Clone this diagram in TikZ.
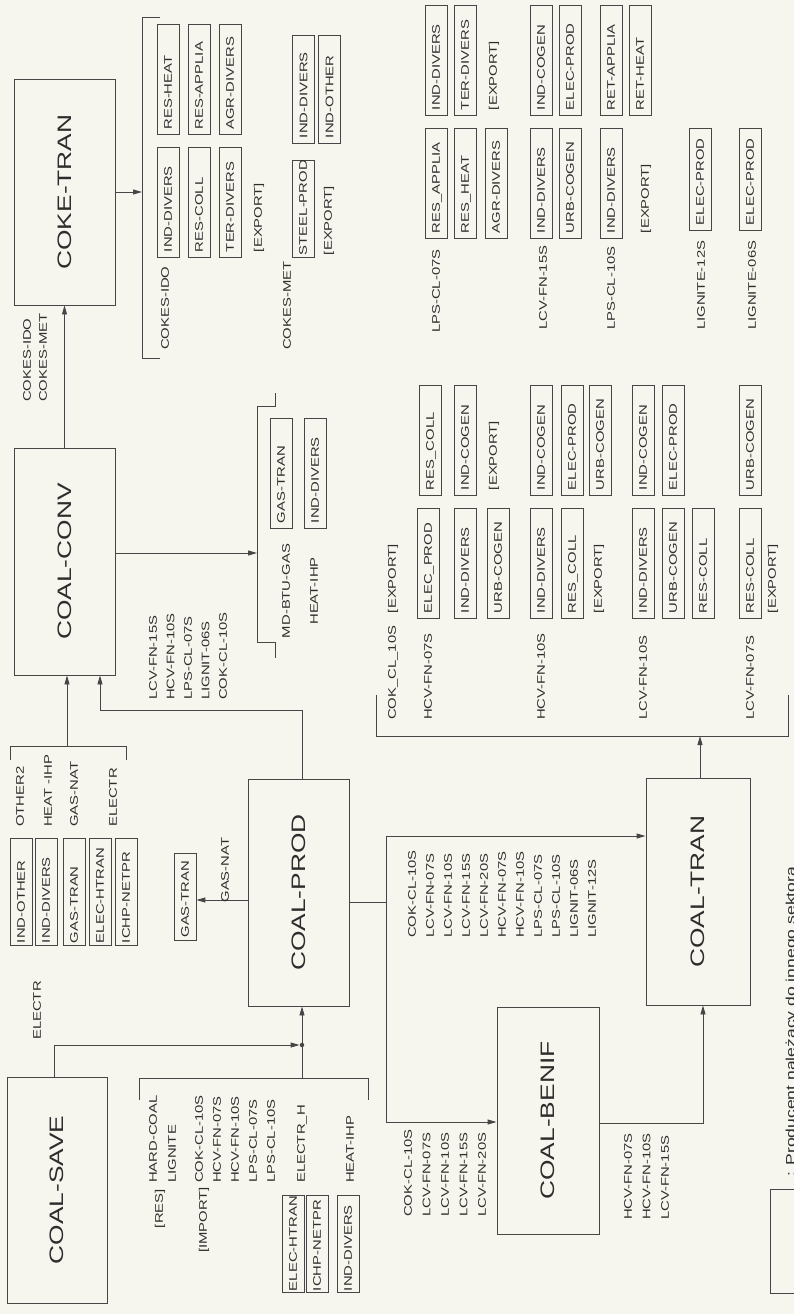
\documentclass[tikz,border=0pt]{standalone}
\usepackage{fontspec}
\setmainfont{Liberation Sans}[FakeStretch=1.35]
\usetikzlibrary{arrows.meta,calc}
\definecolor{bgc}{RGB}{247,246,238}
\definecolor{lnc}{RGB}{70,70,70}
\definecolor{txc}{RGB}{45,45,45}
\newcommand\lblf{\fontsize{11}{12}\selectfont\hyphenpenalty=10000\exhyphenpenalty=10000\relax}
\begin{document}
\begin{tikzpicture}[x=1pt,y=-1pt,
 ln/.style={draw=lnc, line width=0.9pt},
 arr/.style={ln, -{Triangle[length=9pt,width=5pt]}},
 big/.style={draw=lnc, line width=0.9pt, rotate=90, inner sep=0pt, text=txc, font=\fontsize{19.5}{22}\selectfont},
 lbl/.style={rotate=90, inner sep=0pt, text=txc, font=\lblf, text height=7.8pt, text depth=0pt},
 bx/.style={draw=lnc, line width=0.8pt, rotate=90, text=txc, font=\lblf, text width=#1, align=left, inner xsep=5pt, inner ysep=0pt, minimum height=22pt, text height=7.8pt, text depth=0pt},
 bx/.default=100pt,
 bxt/.style={bx=#1, draw=none},
 bxt/.default=100pt]
\useasboundingbox (0,0) rectangle (794,1314);
\clip (0,0) rectangle (794,1314);
\fill[bgc] (0,0) rectangle (794,1314);

% main boxes
\node[big, minimum width=226pt, minimum height=101pt] (coketran) at (64.5,192) {COKE-TRAN};
\node[big, minimum width=227pt, minimum height=101pt] (coalconv) at (64.5,561.5) {COAL-CONV};
\node[big, minimum width=227pt, minimum height=101pt] (coalprod) at (298.5,892.5) {COAL-PROD};
\node[big, minimum width=227pt, minimum height=104pt] (coaltran) at (698,891.5) {COAL-TRAN};
\node[big, minimum width=227pt, minimum height=102pt] (coalbenif) at (548,1120.5) {COAL-BENIF};
\node[big, minimum width=226pt, minimum height=100pt] (coalsave) at (57,1190) {COAL-SAVE};

% COKE-TRAN outputs
\coordinate (b1t) at (142,17); \coordinate (b1b) at (142,358);
\draw[ln] ($(b1t)+(18,0)$) -- (b1t) -- (b1b) -- ($(b1b)+(18,0)$);
\draw[arr] (coketran.south) -- (coketran.south -| b1t);
\node[lbl, anchor=west] (cido) at (165,350) {COKES-IDO};
\node[bx] (kb1) at (168,202) {IND-DIVERS};
\node[bx] (kb2) at (199,202) {RES-COLL};
\node[bx] (kb3) at (230,202) {TER-DIVERS};
\node[bxt] (kb4) at (258,202) {[EXPORT]};
\node[bx] (kb5) at (168,79.5) {RES-HEAT};
\node[bx] (kb6) at (199,79.5) {RES-APPLIA};
\node[bx] (kb7) at (230,79.5) {AGR-DIVERS};
\node[lbl, anchor=west] (cmet) at (287,350) {COKES-MET};
\node[bx=87pt, inner xsep=2pt, text width=93pt] (kb8) at (303,208.5) {STEEL-PROD};
\node[bxt=87pt, inner xsep=2pt, text width=93pt] (kb9) at (328,208.5) {[EXPORT]};
\node[bx=98pt] (kb10) at (303.5,89) {IND-DIVERS};
\node[bx=98pt] (kb11) at (329.5,89) {IND-OTHER};

% right region
\node[lbl, anchor=west] (r1) at (436,333) {LPS-CL-07S};
\node[bx] (r1a) at (436,183) {RES\_APPLIA};
\node[bx] (r1b) at (465,183) {RES\_HEAT};
\node[bx] (r1c) at (496,183) {AGR-DIVERS};
\node[bx] (r1d) at (436,60) {IND-DIVERS};
\node[bx] (r1e) at (465,60) {TER-DIVERS};
\node[bxt] (r1f) at (493,60) {[EXPORT]};
\node[lbl, anchor=west] (r2) at (543,330) {LCV-FN-15S};
\node[bx] (r2a) at (541,183) {IND-DIVERS};
\node[bx] (r2b) at (570,183) {URB-COGEN};
\node[bx] (r2c) at (541,60) {IND-COGEN};
\node[bx] (r2d) at (570,60) {ELEC-PROD};
\node[lbl, anchor=west] (r3) at (611,330) {LPS-CL-10S};
\node[bx] (r3a) at (611,183) {IND-DIVERS};
\node[bxt] (r3b) at (645,183) {[EXPORT]};
\node[bx] (r3c) at (611,60) {RET-APPLIA};
\node[bx] (r3d) at (640,60) {RET-HEAT};
\node[lbl, anchor=west] (r4) at (701,330) {LIGNITE-12S};
\node[bx=92pt] (r4a) at (700,179) {ELEC-PROD};
\node[lbl, anchor=west] (r5) at (752,330) {LIGNITE-06S};
\node[bx=92pt] (r5a) at (750,179) {ELEC-PROD};

% COAL-CONV outputs
\coordinate (b2) at (257,553);
\draw[ln] (275,393) -- (275,406) -- (257,406) -- (257,642) -- (275,642) -- (275,658);
\draw[arr] (coalconv.south |- b2) -- (b2);
\node[bx] (m1) at (281,473) {GAS-TRAN};
\node[bx] (m2) at (315,473) {IND-DIVERS};
\node[lbl] (m3) at (286,591) {MD-BTU-GAS};
\node[lbl] (m4) at (314,591) {HEAT-IHP};

% COAL-CONV -> COKE-TRAN
\draw[arr] (coalconv.east) -- (coketran.west);
\node[lbl, anchor=west] (ck1) at (27,402) {COKES-IDO};
\node[lbl, anchor=west] (ck2) at (43,402) {COKES-MET};

% COAL-CONV inputs (other sectors)
\draw[ln] (10,760) -- (10,746) -- (126,746) -- (126,760);
\coordinate (b3) at (67,746);
\draw[arr] (b3) -- (coalconv.west -| b3);
\node[lbl, anchor=west] (ci1) at (20,827) {OTHER2};
\node[lbl, anchor=west] (ci2) at (48,827) {HEAT -IHP};
\node[lbl, anchor=west] (ci3) at (74,827) {GAS-NAT};
\node[lbl, anchor=west] (ci4) at (113,827) {ELECTR};
\node[bx=97pt, inner xsep=2pt, text width=103pt] (cb1) at (21,891.5) {IND-OTHER};
\node[bx=97pt, inner xsep=2pt, text width=103pt] (cb2) at (46,891.5) {IND-DIVERS};
\node[bx=97pt, inner xsep=2pt, text width=103pt] (cb3) at (74,891.5) {GAS-TRAN};
\node[bx=97pt, inner xsep=2pt, text width=103pt] (cb4) at (100,891.5) {ELEC-HTRAN};
\node[bx=97pt, inner xsep=2pt, text width=103pt] (cb5) at (126,891.5) {ICHP-NETPR};

% COAL-PROD -> COAL-CONV
\coordinate (j1) at (302,710); \coordinate (j2) at (100,710);
\draw[arr] (coalprod.east -| j1) -- (j1) -- (j2) -- (coalconv.west -| j2);
\foreach \t [count=\i] in {LCV-FN-15S,HCV-FN-10S,LPS-CL-07S,LIGNIT-06S,COK-CL-10S}
  \node[lbl, anchor=west] (cv\i) at ({153+17.5*(\i-1)},700) {\t};

% COAL-PROD -> GAS-TRAN
\node[bx=77pt, inner xsep=3pt, text width=81pt] (gt2) at (185,897) {GAS-TRAN};
\coordinate (g1) at (0,900);
\draw[arr] (coalprod.north |- g1) -- (gt2.south |- g1);
\node[lbl] (gn) at (225,870) {GAS-NAT};

% COAL-PROD outputs
\coordinate (pr) at (386,902); \coordinate (v1) at (386,836); \coordinate (v2) at (386,1122);
\draw[ln] (coalprod.south |- pr) -- (pr);
\draw[ln] (v1) -- (v2);
\draw[arr] (v1) -- (coaltran.north |- v1);
\draw[arr] (v2) -- (coalbenif.north |- v2);
\foreach \t [count=\i] in {COK-CL-10S,LCV-FN-07S,LCV-FN-10S,LCV-FN-15S,LCV-FN-20S,HCV-FN-07S,HCV-FN-10S,LPS-CL-07S,LPS-CL-10S,LIGNIT-06S,LIGNIT-12S}
  \node[lbl, anchor=west] (po\i) at ({412+18*(\i-1)},938) {\t};
\foreach \t [count=\i] in {COK-CL-10S,LCV-FN-07S,LCV-FN-10S,LCV-FN-15S,LCV-FN-20S}
  \node[lbl, anchor=west] (bi\i) at ({408+18.5*(\i-1)},1217) {\t};

% COAL-BENIF -> COAL-TRAN
\coordinate (v3) at (703,1123);
\draw[arr] (coalbenif.south |- v3) -- (v3) -- (coaltran.west -| v3);
\foreach \t [count=\i] in {HCV-FN-07S,HCV-FN-10S,LCV-FN-15S}
  \node[lbl, anchor=west] (bo\i) at ({628+18.5*(\i-1)},1220) {\t};

% COAL-TRAN outputs
\coordinate (t1) at (700,736);
\draw[arr] (coaltran.east -| t1) -- (t1);
\draw[ln] (376,695) -- (376,736) -- (788,736) -- (788,695);
\node[lbl, anchor=west] (to1) at (392,720) {COK\_CL\_10S};
\node[bxt] (to1a) at (392,563) {[EXPORT]};
\node[lbl, anchor=west] (to2) at (428,720) {HCV-FN-07S};
\node[bx] (to2a) at (428,563) {ELEC\_PROD};
\node[bx] (to2b) at (465,563) {IND-DIVERS};
\node[bx] (to2c) at (498,563) {URB-COGEN};
\node[bx] (to2d) at (430,440) {RES\_COLL};
\node[bx] (to2e) at (465,440) {IND-COGEN};
\node[bxt] (to2f) at (493,440) {[EXPORT]};
\node[lbl, anchor=west] (to3) at (541,720) {HCV-FN-10S};
\node[bx] (to3a) at (541,563) {IND-DIVERS};
\node[bx] (to3b) at (572,563) {RES\_COLL};
\node[bxt] (to3c) at (598,563) {[EXPORT]};
\node[bx] (to3d) at (541,440) {IND-COGEN};
\node[bx] (to3e) at (572,440) {ELEC-PROD};
\node[bx] (to3f) at (600,440) {URB-COGEN};
\node[lbl, anchor=west] (to4) at (643,720) {LCV-FN-10S};
\node[bx] (to4a) at (643,563) {IND-DIVERS};
\node[bx] (to4b) at (673,563) {URB-COGEN};
\node[bx] (to4c) at (703,563) {RES-COLL};
\node[bx] (to4d) at (643,440) {IND-COGEN};
\node[bx] (to4e) at (673,440) {ELEC-PROD};
\node[lbl, anchor=west] (to5) at (750,720) {LCV-FN-07S};
\node[bx] (to5a) at (750,563) {RES-COLL};
\node[bxt] (to5b) at (772,563) {[EXPORT]};
\node[bx] (to5c) at (750,440) {URB-COGEN};

% COAL-SAVE and COAL-PROD inputs
\node[circle, fill=lnc, inner sep=0pt, minimum size=4.5pt] (dot) at (302,1045) {};
\coordinate (e1) at (54,1045);
\draw[arr] (coalsave.east -| e1) -- (e1) -- (dot);
\node[lbl, anchor=west] (el) at (37,1040) {ELECTR};
\draw[ln] (139,1100) -- (139,1078) -- (368,1078) -- (368,1100);
\coordinate (b4) at (302,1078);
\draw[arr] (b4) -- (coalprod.west -| b4);
\node[lbl, anchor=east] (res) at (159,1189) {[RES]};
\node[lbl, anchor=west] (hc) at (153,1183) {HARD-COAL};
\node[lbl, anchor=west] (lg) at (172,1183) {LIGNITE};
\node[lbl, anchor=east] (imp) at (203,1187) {[IMPORT]};
\foreach \t [count=\i] in {COK-CL-10S,HCV-FN-07S,HCV-FN-10S,LPS-CL-07S,LPS-CL-10S}
  \node[lbl, anchor=west] (im\i) at ({199+18*(\i-1)},1183) {\t};
\node[lbl, anchor=west] (eh) at (301,1183) {ELECTR\_H};
\node[lbl, anchor=west] (hi) at (350,1183) {HEAT-IHP};
\node[bx=87pt, inner xsep=1pt, text width=95pt] (pb1) at (293,1243.5) {ELEC-HTRAN};
\node[bx=87pt, inner xsep=1pt, text width=95pt] (pb2) at (317,1243.5) {ICHP-NETPR};
\node[bx=87pt, inner xsep=1pt, text width=95pt] (pb3) at (348,1243.5) {IND-DIVERS};

% legend
\node[draw=lnc, line width=0.9pt, rotate=90, minimum width=104pt, minimum height=30pt, inner sep=0pt] (leg) at (785,1241) {};
\node[rotate=90, anchor=base west, inner sep=0pt, text=txc, font=\fontsize{13}{15}\selectfont] (legt) at (795,1177) {: Producent należący do innego sektora};
\end{tikzpicture}
\end{document}
